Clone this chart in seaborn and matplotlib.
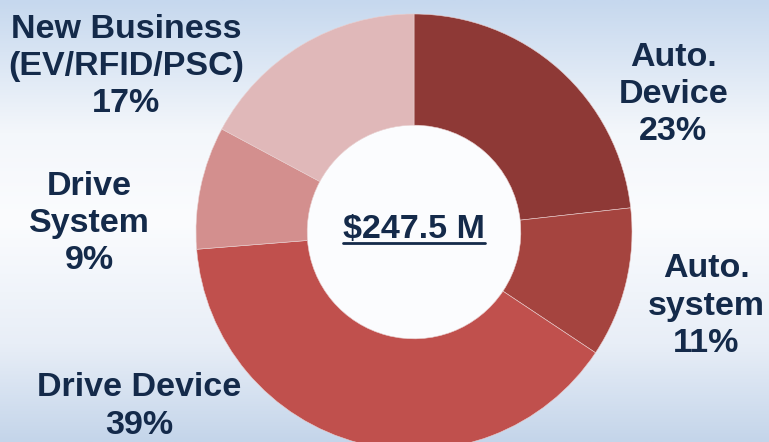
import numpy as np
import matplotlib
matplotlib.use("Agg")
import matplotlib.pyplot as plt
from matplotlib.colors import LinearSegmentedColormap
import seaborn as sns

# segment data (clockwise from 12 o'clock)
segments = ["Auto.\nDevice", "Auto.\nsystem", "Drive Device", "Drive\nSystem", "New Business\n(EV/RFID/PSC)"]
shares = [23, 11, 39, 9, 17]
colors = ["#8e3936", "#a5443f", "#c0504d", "#d38f8e", "#e0b8b9"]
total_label = "$247.5 M"

# label anchor points (data units, pie radius = 1)
label_pos = [(1.19, 0.63), (1.34, -0.34), (-1.26, -0.80), (-1.49, 0.04), (-1.32, 0.76)]

sns.set_theme(style="white")
plt.rcParams["font.family"] = ["Liberation Sans", "DejaVu Sans"]
text_color = "#142a4a"

fig = plt.figure(figsize=(7.69, 4.42), dpi=100)

# gradient background
bg = fig.add_axes([0, 0, 1, 1])
grad = LinearSegmentedColormap.from_list(
    "bg", [(0, "#c6d8ee"), (0.3, "#f4f7fb"), (0.5, "#fbfcfe"), (0.78, "#e8eef7"), (1, "#c4d5ea")])
bg.imshow(np.linspace(0, 1, 256).reshape(-1, 1), aspect="auto", cmap=grad, extent=[0, 1, 0, 1])
bg.set_axis_off()

ax = fig.add_axes([0, 0, 1, 1])
ax.set_axis_off()
ax.patch.set_alpha(0)

wedges, _ = ax.pie(shares, colors=colors, startangle=90, counterclock=False,
                   radius=1.0, wedgeprops=dict(width=0.51, edgecolor="#e9cfcf", linewidth=0.4))
ax.add_patch(plt.Circle((0, 0), 0.49, color="#fbfcfe", zorder=0.5))

# map pixels -> data: centre at (414, 232), radius 218 px
ax.set_xlim(-414 / 218, (769 - 414) / 218)
ax.set_ylim(-(442 - 232) / 218, 232 / 218)
ax.set_aspect("auto")

for name, pct, (x, y) in zip(segments, shares, label_pos):
    ax.text(x, y, f"{name}\n{pct}%", ha="center", va="center", fontsize=24.5,
            fontweight="bold", color=text_color, linespacing=1.26)

t = ax.text(0, 0.01, total_label, ha="center", va="center", fontsize=24.5,
            fontweight="bold", color=text_color)
fig.canvas.draw()
bb = t.get_window_extent().transformed(ax.transData.inverted())
ax.plot([bb.x0, bb.x1], [bb.y0 + 0.01, bb.y0 + 0.01], color=text_color, lw=2)

fig.savefig("out.png", dpi=100)
